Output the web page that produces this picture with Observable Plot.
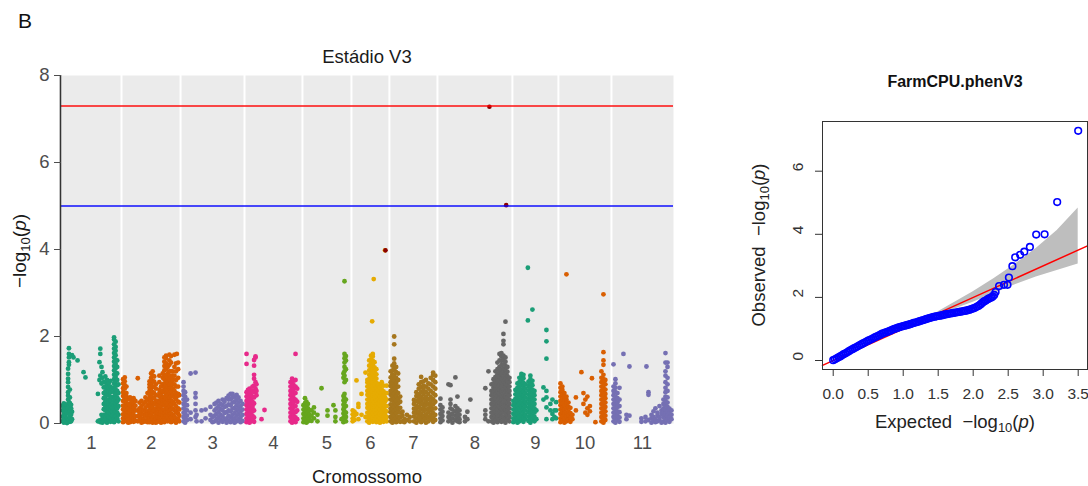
<!DOCTYPE html>
<html><head><meta charset="utf-8">
<script src="https://cdn.jsdelivr.net/npm/d3@7"></script>
<script src="https://cdn.jsdelivr.net/npm/@observablehq/plot@0.6"></script>
<style>
body{margin:0;background:#fff;}
#wrap{position:relative;width:1088px;height:486px;overflow:hidden;font-family:"Liberation Sans",Arial,sans-serif;}
#man{position:absolute;left:0;top:0;}
#qq{position:absolute;left:690px;top:0;}
#ov{position:absolute;left:0;top:0;pointer-events:none;}
#ov text{white-space:pre;}
</style></head><body>
<div id="wrap">
<div id="man"></div>
<div id="qq"></div>
<svg id="ov" width="1088" height="486" font-family="Liberation Sans, Arial, sans-serif">
  <text x="18" y="28" font-size="21" fill="#111">B</text>
  <text x="367" y="63" font-size="18.5" text-anchor="middle" fill="#1a1a1a">Estádio V3</text>
  <text x="367" y="483" font-size="18.5" text-anchor="middle" fill="#1a1a1a">Cromossomo</text>
  <text transform="translate(26,251) rotate(-90)" font-size="19" text-anchor="middle" fill="#1a1a1a">−log<tspan font-size="13" dy="4">10</tspan><tspan dy="-4">(</tspan><tspan font-style="italic">p</tspan>)</text>
  <text x="955" y="87" font-size="16" font-weight="bold" text-anchor="middle" fill="#111">FarmCPU.phenV3</text>
  <text x="955" y="427.5" font-size="18.5" text-anchor="middle" fill="#222">Expected  −log<tspan font-size="13" dy="4">10</tspan><tspan dy="-4">(</tspan><tspan font-style="italic">p</tspan>)</text>
  <text transform="translate(765,245) rotate(-90)" font-size="18.5" text-anchor="middle" fill="#222">Observed  −log<tspan font-size="13" dy="4">10</tspan><tspan dy="-4">(</tspan><tspan font-style="italic">p</tspan>)</text>
</svg>
</div>
<script>
// ---------------- Manhattan data ----------------
const chrLabels = ["1","2","3","4","5","6","7","8","9","10","11"];
const chrLen = [50.1, 49.3, 53.4, 48.4, 40.9, 31.7, 40.1, 62.6, 38.4, 44.3, 51.8]; // Mb
const chrColors = ["#1B9E77","#D95F02","#7570B3","#E7298A","#66A61E","#E6AB02","#A6761D","#666666","#1B9E77","#D95F02","#7570B3"];
const yTicks = [0, 2, 4, 6, 8];
const thresholdRed = [7.3];
const thresholdBlue = [5.0];

// each entry: [position (Mb), [-log10(p) values at that position]]
const chr1 = [
 [0.8,[0.05,0.16,0.3,0.41]],[2.0,[0.1,0.22,0.37,0.02,0.46]],[3.3,[0.33,0.44,0.06,0.19,0.27]],
 [4.6,[0.12,0.3,0.42,0.01,0.24]],[5.5,[0.55,0.64,0.72,0.84,0.95,1.03,1.14,1.26,0.09,0.36]],
 [6.2,[0.08,0.25,0.4,1.35,1.41,1.52,1.6,1.73,0.49]],[7.0,[0.15,0.28,0.47,0.6,0.78,0.04]],
 [8.0,[0.05,0.35,0.2,0.43]],[8.8,[1.57,0.1,0.27]],[10.0,[1.52]],[13.4,[1.45]],[18.4,[1.18]],[20.0,[1.06]],
 [30.4,[0.68,0.05]],[31.7,[1.41,0.07,1.0]],[32.4,[1.72,1.6,0.03,1.1]],[33.4,[0.2,1.3,0.92,0.06]],
 [34.2,[1.18,1.05,0.02,0.12]],[35.3,[0.05,0.2,0.45,0.7,0.95,0.33,0.58,0.83]],
 [36.6,[0.1,0.3,0.5,0.62,0.85,1.08,0.2,0.4,0.74,0.96]],[38.0,[0.02,0.18,0.38,0.55,0.78,0.9,0.28,0.47,0.67,1.0]],
 [39.5,[0.08,0.25,0.45,0.65,0.82,0.15,0.35,0.55,0.74,0.93]],[41.0,[0.04,0.14,0.32,0.52,0.72,0.98,0.23,0.42,0.62,0.85]],
 [42.3,[0.09,0.27,0.44,0.6,0.8,0.18,0.36]],
 [43.9,[0.03,0.12,0.22,0.32,0.42,0.52,0.62,0.72,0.82,0.92,1.02,1.12,1.22,1.32,1.42,1.52,1.62,1.72,1.82,1.93,1.98]],
 [45.2,[0.07,0.17,0.27,0.38,0.47,0.57,0.67,0.78,0.87,0.97,1.07,1.17,1.27,1.37,1.47,1.57,1.67,1.76,1.88]],
 [46.5,[0.12,0.25,0.35,0.5,0.6,0.75,0.88,1.0,1.15,1.3,1.45]],[47.6,[0.05,0.2,0.4,0.55,0.7,0.9]]
];
const chr2 = [
 [1.3,[0.03,0.12,0.21,0.32,0.41,0.52,0.63,0.72,0.81,0.92,1.02]],[2.7,[0.07,0.17,0.27,0.36,0.5,0.66,0.8,0.97,1.06,0.58,0.88]],
 [4.1,[0.05,0.15,0.28,0.4,0.55,0.7,0.85,0.22,0.47,0.62]],[5.6,[0.1,0.25,0.35,0.45,0.02,0.18]],
 [7.1,[0.03,0.18,0.3,0.42,0.55,0.6,0.11,0.24]],[8.6,[0.08,0.22,0.38,0.5,0.15,0.3]],
 [10.1,[0.12,0.28,0.44,0.58,0.04,0.2,0.36]],[11.6,[0.06,0.16,0.3,0.41,0.52]],[13.6,[1.04,0.05,0.3,0.17]],
 [15.0,[0.15,0.35,0.48,0.25,0.07]],[16.7,[0.02,0.22,0.4,0.52,0.12,0.31]],[18.4,[0.1,0.3,0.45,0.2,0.04]],
 [20.0,[0.05,0.18,0.36,0.5,0.27,0.6]],[21.7,[0.12,0.28,0.42,0.55,0.2,0.03,0.7]],
 [23.4,[0.03,0.2,0.38,0.6,0.75,0.9,0.11,0.29,0.48,0.67,0.83,0.97]],[24.7,[0.08,0.18,0.3,0.42,0.55,0.68,0.8,0.92,1.05,1.15]],
 [26.0,[0.02,0.12,0.25,0.36,0.48,0.6,0.72,0.85,0.98,1.1,1.2]],[27.3,[0.06,0.16,0.3,0.45,0.58,0.7,0.84,0.96,1.08]],
 [28.7,[0.1,0.22,0.35,0.5,0.65,0.8,0.9,0.02]],[30.1,[0.04,0.15,0.3,0.42,0.24,0.52]],
 [31.6,[0.08,0.2,0.34,0.48,0.62,0.78,0.95,1.1,0.13,0.41,0.7]],[33.0,[0.02,0.14,0.28,0.4,0.55,0.7,0.85,0.21,0.63]],
 [34.4,[0.06,0.18,0.32,0.46,0.6,0.75,0.9,1.05,1.15,0.25,0.53]],
 [35.8,[0.03,0.12,0.22,0.32,0.42,0.52,0.62,0.72,0.82,0.92,1.02,1.12,1.22,1.32,1.42,1.52]],
 [37.2,[0.08,0.18,0.28,0.38,0.48,0.58,0.68,0.78,0.88,0.98,1.1,1.25,1.38,1.5,1.56]],
 [38.6,[0.05,0.15,0.25,0.35,0.45,0.55,0.65,0.75,0.85,0.95,1.05,1.15,1.3]],
 [40.0,[0.1,0.2,0.3,0.4,0.5,0.6,0.7,0.8,0.9,1.0,1.1,1.2,1.35,1.45,1.58]],
 [41.4,[0.03,0.13,0.23,0.33,0.43,0.53,0.63,0.73,0.83,0.93,1.05,1.2,1.4,1.55]],
 [42.8,[0.08,0.2,0.35,0.5,0.65,0.8,1.0,1.2,1.1,0.9]],[44.2,[0.05,0.15,0.3,0.45,0.6,0.75,0.9,1.1,1.3,1.58]],
 [45.5,[0.02,0.12,0.25,0.4,0.55,0.7,0.85,1.0,1.2,1.38]],[46.2,[1.6,0.3,0.62]],
 [47.3,[0.1,0.22,0.35,0.5,0.68,0.85,1.05,1.25,1.4]],[48.3,[0.05,0.18,0.32,0.48,0.65]]
];
const chr3 = [
 [2.5,[0.05,0.15,0.25,0.35,0.45,0.55,0.65,0.75,0.85,0.95]],[3.8,[0.02,0.12,0.22,0.32,0.42,0.52,0.62,0.72]],
 [5.4,[0.08,0.18,0.3,0.42,0.55]],[8.4,[1.15,0.1,0.25]],[12.5,[1.17,0.7,0.6,0.3,0.45,0.15]],[13.4,[0.05,0.2]],
 [17.5,[0.3,0.05]],[20.9,[0.32,0.12]],[25.0,[0.38,0.2,0.08]],[26.7,[0.15,0.03]],
 [28.4,[0.05,0.18,0.3,0.45]],[30.0,[0.1,0.22,0.35,0.48]],[31.7,[0.02,0.14,0.26,0.4,0.52]],
 [33.4,[0.08,0.2,0.33,0.45]],[35.1,[0.04,0.16,0.3,0.42,0.55]],[36.7,[0.1,0.24,0.38,0.5]],
 [38.4,[0.02,0.12,0.26,0.4,0.58]],[40.1,[0.06,0.18,0.3,0.44,0.55,0.64]],[41.8,[0.03,0.14,0.28,0.42,0.56,0.68]],
 [43.4,[0.08,0.2,0.34,0.48,0.6,0.68]],[45.1,[0.02,0.12,0.24,0.36,0.5,0.62]],[46.8,[0.05,0.18,0.3,0.42,0.55,0.66]],
 [48.4,[0.1,0.22,0.35,0.48,0.6]],[50.1,[0.03,0.15,0.28,0.4,0.52]],[51.8,[0.06,0.2,0.32,0.45]]
];
const chr4 = [
 [1.7,[0.03,0.12,0.22,0.32,0.42,0.52,0.62,0.72,1.6,1.37]],[2.9,[0.07,0.17,0.27,0.37,0.47,0.57,0.67,0.77]],
 [4.2,[0.02,0.1,0.2,0.3,0.4,0.5,0.6,0.7,0.8]],[5.4,[0.05,0.15,0.25,0.35,0.45,0.55,0.65,0.75]],
 [6.7,[0.08,0.18,0.28,0.38,0.5,0.62,0.75,0.85]],[8.0,[0.04,0.14,0.3,0.46,0.6,0.72,0.87,1.03,1.12,1.33,1.46]],
 [9.2,[1.52,1.54,0.95,0.8]],[10.0,[0.75,0.65,0.9]],[14.2,[0.1]],[16.7,[0.31]],
 [38.4,[0.05,0.15,0.25,0.35,0.45,0.55,0.65,0.75,0.85,0.95]],[39.7,[0.02,0.12,0.22,0.32,0.42,0.52,0.62,0.72,0.82,0.92,1.03]],
 [41.0,[0.08,0.18,0.28,0.38,0.48,0.58,0.68,0.78,0.88,0.98]],[42.6,[0.03,0.14,0.26,0.4,0.55,0.7,0.85,1.0,1.6]],
 [44.0,[0.1,0.3,0.5,0.8]]
];
const chr5 = [
 [0.8,[0.03,0.12,0.22,0.32,0.42]],[2.1,[0.07,0.17,0.27,0.37,0.47,0.58]],[3.3,[0.02,0.1,0.2,0.3,0.4,0.5]],
 [4.6,[0.05,0.15,0.25,0.35,0.45]],[5.8,[0.1,0.2,0.3]],[7.5,[0.06,0.18,0.3]],[9.6,[0.37,0.25,0.12]],
 [12.5,[0.2,0.05]],[15.9,[0.81]],[20.9,[0.3,0.18]],[25.9,[0.42]],[27.5,[0.3,0.15,0.05]],[32.6,[0.1]],
 [34.2,[0.03,0.13,0.23,0.33,0.43,0.53,0.63,1.05,1.15]],
 [35.1,[0.08,0.18,0.28,0.38,0.48,0.58,0.68,0.95,1.1,1.2,1.3,1.4,1.5,1.6,3.27]],
 [36.3,[0.05,0.15,0.25,0.4,0.55,1.0,1.25,1.45,1.55]]
];
const chr6 = [
 [1.0,[0.05,0.12,0.21,0.3]],[2.5,[0.08,0.18,0.27]],[4.2,[0.22,0.99]],[5.8,[0.1,0.38,0.45]],[8.4,[0.68,0.2]],
 [11.7,[1.17,0.15]],[13.3,[0.05,0.15,0.25,0.36,0.45,0.55,0.66,0.75,0.85,0.94,1.0]],
 [14.8,[0.02,0.12,0.23,0.32,0.42,0.53,0.62,0.72,0.83,0.92,1.02,1.12,1.22,1.33,1.45]],
 [16.3,[0.07,0.17,0.27,0.38,0.47,0.57,0.68,0.77,0.87,0.97,1.07,1.18,1.27,1.37,1.47,1.56]],[17.3,[2.35]],
 [17.8,[0.04,0.14,0.24,0.34,0.45,0.54,0.64,0.74,0.85,0.94,1.04,1.14,1.24,1.35,1.44,1.54,1.6]],[18.6,[3.32]],
 [19.3,[0.09,0.19,0.29,0.39,0.49,0.6,0.69,0.79,0.89,0.99,1.09,1.19,1.29,1.41]],
 [20.8,[0.03,0.13,0.23,0.33,0.43,0.53,0.63,0.73,0.83,0.93,1.03,1.13,1.25]],
 [22.3,[0.06,0.16,0.26,0.36,0.46,0.56,0.66,0.76,0.86,0.91]],[23.8,[0.02,0.12,0.22,0.32,0.42,0.52,0.62,0.72,0.82]],
 [25.3,[0.08,0.18,0.28,0.38,0.48,0.58,0.68,0.78,0.88,0.95]],[26.8,[0.04,0.14,0.24,0.34,0.44,0.54,0.64,0.74,0.87]],
 [28.0,[0.1,0.2,0.3,0.4,0.5,0.6,0.7,3.98]],[29.4,[0.05,0.15,0.28,0.4,0.55,0.7,0.87]]
];
const chr7 = [
 [1.0,[0.05,0.15,0.26,0.35,0.44,0.55,0.66,0.75,0.86,0.95,1.06,1.2]],
 [2.5,[0.02,0.11,0.22,0.31,0.42,0.53,0.62,0.71,0.83,0.92,1.02,1.13,1.22,1.33]],
 [4.0,[0.08,0.18,0.29,0.38,0.47,0.58,0.69,0.78,0.88,0.99,1.1,1.25,1.38,1.49,1.82,2.0]],
 [5.6,[0.03,0.13,0.24,0.33,0.43,0.52,0.63,0.74,0.83,0.93,1.05,1.18,1.3]],
 [7.3,[0.06,0.16,0.27,0.36,0.46,0.57,0.7,0.85,1.0,1.15]],[9.0,[0.04,0.14,0.25,0.36,0.5,0.62]],
 [10.9,[0.05,0.18,0.27]],[12.5,[0.1,0.03]],[14.6,[0.2,0.08]],[17.0,[0.15,0.05]],
 [20.5,[0.05,0.16,0.25,0.34,0.45,0.54]],[22.5,[0.02,0.12,0.23,0.32,0.41,0.52,0.63,0.72]],
 [24.5,[0.08,0.18,0.27,0.38,0.49,0.58,0.67,0.8,0.9]],[26.5,[0.03,0.13,0.22,0.33,0.44,0.53,0.62,0.73,0.84,0.95,1.07]],
 [28.5,[0.07,0.17,0.28,0.37,0.46,0.57,0.68,0.77,0.87,0.97]],[30.5,[0.02,0.12,0.21,0.32,0.43,0.52,0.61,0.72,0.85,1.0]],
 [32.5,[0.05,0.15,0.26,0.35,0.45,0.56,0.68,0.8,0.92]],[34.5,[0.1,0.2,0.31,0.4,0.5,0.61,0.75,0.9,1.05]],
 [36.5,[0.04,0.14,0.24,0.34,0.44,0.56,0.7,0.85,1.0,1.12,1.17]],[38.3,[0.08,0.2,0.35,0.5,0.65,0.8,0.95,1.1]]
];
const chr8 = [
 [2.5,[0.03,0.12,0.22,0.32,0.42,0.57]],[4.2,[0.07,0.17,0.27,0.37]],[9.2,[0.9,0.05,0.15,0.25]],
 [10.9,[0.88,0.1,0.2,0.35,0.45,0.55]],[12.5,[0.02,0.12,0.22,0.32]],[15.0,[1.06,0.08,0.18,0.28,0.4]],
 [16.7,[0.62,0.05,0.15,0.25,0.35]],[18.4,[0.1,0.2,0.3,0.03]],[23.0,[0.05,0.15]],[25.0,[0.27,0.1]],[27.5,[0.55]],
 [40.0,[0.81,0.3,0.2,0.1]],[42.6,[1.2,0.05]],
 [45.1,[0.05,0.15,0.25,0.35,0.45,0.55,0.65,0.75,0.9]],[46.8,[0.02,0.12,0.22,0.32,0.42,0.52,0.62,0.72,0.82,0.92,1.02]],
 [48.4,[0.07,0.17,0.27,0.37,0.47,0.57,0.67,0.77,0.87,0.97,1.07,1.2]],
 [50.1,[0.03,0.13,0.23,0.33,0.43,0.53,0.63,0.73,0.83,0.93,1.03,1.13,1.25,1.4]],
 [51.8,[0.08,0.18,0.28,0.38,0.48,0.58,0.68,0.78,0.88,0.98,1.08,1.18,1.3,1.45,1.6]],
 [53.4,[0.04,0.14,0.24,0.34,0.44,0.54,0.64,0.74,0.84,0.94,1.04,1.14,1.24,1.34,1.44,1.54,1.62]],
 [55.1,[0.06,0.16,0.26,0.36,0.46,0.56,0.66,0.76,0.86,0.96,1.06,1.16,1.26,1.36,1.46,1.56,1.82,1.9,2.06]],
 [56.8,[0.02,0.12,0.22,0.32,0.42,0.52,0.62,0.72,0.82,0.92,1.02,1.12,1.22,1.32,1.42,1.52,2.34]],
 [58.4,[0.09,0.19,0.29,0.39,0.49,0.59,0.69,0.79,0.89,0.99,1.09,1.19,1.3]],
 [60.1,[0.05,0.15,0.25,0.35,0.45,0.55,0.65,0.75,0.85,0.95,1.05]]
];
const chr9 = [
 [0.8,[0.03,0.12,0.22,0.32,0.42,0.52]],[2.5,[0.07,0.17,0.27,0.37,0.47,0.57,0.67,0.77]],
 [4.2,[0.02,0.12,0.22,0.32,0.42,0.52,0.62,0.72,0.82,0.92]],[5.8,[0.05,0.15,0.25,0.35,0.45,0.55,0.65,0.75,0.85,0.95,1.05]],
 [7.5,[0.08,0.18,0.28,0.38,0.48,0.58,0.68,0.78,0.88,0.98,1.08,1.14]],[9.2,[0.04,0.14,0.24,0.34,0.44,0.54,0.64,0.74,0.84,0.94,1.04,1.12]],
 [10.9,[0.1,0.2,0.3,0.4,0.5,0.6,0.7,0.8,0.9]],[12.9,[3.58,2.37]],[13.4,[0.06,0.16,0.26,0.36,0.46,0.56,0.66,0.76,0.86,0.96]],
 [15.0,[0.02,0.12,0.22,0.32,0.42,0.52,0.62,0.72,0.82,0.92,1.02,1.1]],[16.7,[2.62,0.08,0.18,0.28,0.38,0.48,0.58,0.68,0.78,0.88,0.98]],
 [18.4,[0.05,0.15,0.25,0.35,0.45,0.55,0.65,0.75]],[20.0,[0.1,0.3]],[25.9,[0.83,0.55]],
 [28.4,[2.15,1.89,1.49,0.75,0.6,0.37,0.1]],[31.7,[0.45,0.3]],[33.4,[0.22,0.1,0.55]],[35.1,[0.3,0.15]],[36.5,[0.49,0.3,0.12]]
];
const chr10 = [
 [1.7,[0.03,0.12,0.22,0.32,0.42,0.52,0.62,0.72,0.82,0.92]],[3.3,[0.07,0.17,0.27,0.37,0.47,0.57,0.67,0.77,0.85]],
 [5.0,[0.02,0.12,0.22,0.32,0.42,0.52,0.62,0.7]],[6.7,[0.05,0.15,0.25,0.35,0.45,0.55,0.62,3.43]],
 [8.4,[0.08,0.18,0.28,0.38,0.48]],[10.0,[0.04,0.14,0.24,0.36]],[11.7,[0.1,0.2]],[14.6,[0.6,0.3]],[19.2,[1.18]],
 [20.9,[0.7,0.45]],[22.5,[0.55,0.25]],[24.2,[0.62,0.35,0.2]],[26.3,[0.4,0.28]],[28.0,[1.04]],[30.9,[0.03]],
 [35.9,[0.05,0.15,0.25,0.35,0.45,0.55,0.65,0.75,0.85,0.95,1.05,1.2]],
 [37.6,[0.02,0.12,0.22,0.32,0.42,0.52,0.62,0.72,0.82,0.92,1.02,1.12,1.35,1.45,1.64,2.97]],
 [39.2,[0.08,0.18,0.28,0.38,0.48,0.58,0.68,0.78,0.9,1.0]]
];
const chr11 = [
 [1.7,[0.05,0.15,0.25,0.35,0.45,0.55,0.65,0.75,0.85,1.36]],[3.3,[0.02,0.12,0.22,0.32,0.42,0.52,0.62,0.72,0.82,0.92,1.02]],
 [5.0,[0.08,0.18,0.28,0.38,0.48,0.58,0.7]],[6.7,[0.04,0.14,0.26,0.4,0.55,0.82]],[10.0,[1.6]],[12.5,[0.2,0.1]],
 [15.0,[1.31,0.18]],[25.0,[0.12,0.04]],[28.4,[0.05,0.15]],[29.2,[1.31]],[30.9,[0.72,0.66,0.08]],
 [33.4,[0.02,0.12,0.2]],[35.1,[0.06,0.15,0.28]],[36.7,[0.1,0.03,0.35]],[38.4,[0.05,0.18,0.25]],
 [40.1,[0.08,0.14,0.4]],[41.8,[0.02,0.22,0.3]],[43.4,[0.05,0.15,0.25,0.35,0.45,0.55]],
 [45.1,[0.02,0.12,0.22,0.32,0.42,0.52,0.62,0.72,0.82,0.95,1.1,1.2,1.4,1.62]],
 [46.8,[0.08,0.18,0.28,0.38,0.48,0.6,0.75,0.9,1.05,1.3,1.4]],[48.4,[0.04,0.14,0.24,0.34]],[50.1,[0.1,0.2,0.3]]
];
// highlighted SNPs: [chromosome index (1-based), position Mb, -log10(p)]
const highlights = [[6, 28.4, 3.98], [8, 43.4, 7.28], [8, 57.4, 5.02]];

// ---------------- QQ data ----------------
const qqExpected = [0,0.025,0.05,0.075,0.1,0.125,0.15,0.175,0.2,0.225,0.25,0.275,0.3,0.325,0.35,0.375,0.4,0.425,0.45,0.475,
 0.5,0.525,0.55,0.575,0.6,0.625,0.65,0.675,0.7,0.725,0.75,0.775,0.8,0.825,0.85,0.875,0.9,0.925,0.95,0.975,
 1.0,1.025,1.05,1.075,1.1,1.125,1.15,1.175,1.2,1.225,1.25,1.275,1.3,1.325,1.35,1.375,1.4,1.425,1.45,1.475,
 1.5,1.525,1.55,1.575,1.6,1.625,1.65,1.675,1.7,1.725,1.75,1.775,1.8,1.825,1.85,1.875,1.9,1.925,1.95,1.975,
 2.0,2.025,2.05,2.075,2.1,2.12,2.14,2.16,2.18,2.2,2.22,2.24,2.26,2.28,2.3,2.32,2.37,2.44,2.49,2.51,2.56,2.6,2.67,2.73,2.81,2.9,3.02,3.2,3.5];
const qqObserved = [0.01,0.04,0.07,0.1,0.13,0.165,0.2,0.23,0.26,0.295,0.33,0.36,0.39,0.42,0.45,0.48,0.51,0.54,0.57,0.6,
 0.63,0.655,0.68,0.71,0.74,0.765,0.79,0.82,0.85,0.87,0.89,0.91,0.93,0.955,0.98,1.0,1.02,1.04,1.06,1.075,
 1.09,1.105,1.12,1.135,1.15,1.17,1.19,1.205,1.22,1.24,1.26,1.275,1.29,1.31,1.33,1.345,1.36,1.375,1.39,1.4,
 1.41,1.42,1.43,1.445,1.46,1.47,1.48,1.49,1.5,1.51,1.52,1.53,1.54,1.55,1.56,1.57,1.58,1.595,1.61,1.63,
 1.65,1.67,1.7,1.73,1.77,1.81,1.85,1.88,1.9,1.93,1.96,1.98,2.0,2.03,2.08,2.17,2.36,2.4,2.4,2.63,2.99,3.27,3.35,3.45,3.6,3.99,4.0,5.02,7.28];
const bandExpected = [1.45,1.7,2.0,2.3,2.6,2.9,3.2,3.5];
const bandLower = [1.42,1.6,1.85,2.12,2.4,2.65,2.85,3.06];
const bandUpper = [1.48,1.8,2.18,2.6,3.05,3.55,4.12,4.83];
const qqXTicks = [0,0.5,1,1.5,2,2.5,3,3.5];
const qqYTicks = [0,2,4,6];

// ---------------- build ----------------
const ends = Array.from(d3.cumsum(chrLen));
const starts = [0, ...ends.slice(0, -1)];
const total = d3.sum(chrLen);
const centers = chrLen.map((l, i) => starts[i] + l / 2);
const bounds = starts.slice(1);
const chrData = [chr1, chr2, chr3, chr4, chr5, chr6, chr7, chr8, chr9, chr10, chr11];
const snps = chrData.flatMap((cols, i) => cols.flatMap(([pos, vals]) => vals.map(v => ({chr: chrLabels[i], x: starts[i] + pos, y: v}))));
const hl = highlights.map(([c, pos, v]) => ({x: starts[c - 1] + pos, y: v}));

const man = Plot.plot({
  width: 690, height: 486,
  marginLeft: 61, marginRight: 17, marginTop: 75, marginBottom: 63,
  x: {domain: [0, total], label: null},
  y: {domain: [0, 8], label: null},
  color: {type: "ordinal", domain: chrLabels, range: chrColors},
  style: {fontFamily: "Liberation Sans, Arial, sans-serif", background: "transparent", color: "#4D4D4D"},
  marks: [
    Plot.frame({fill: "#EBEBEB", stroke: "none"}),
    Plot.ruleX(bounds, {stroke: "white", strokeWidth: 2}),
    Plot.dot(snps, {x: "x", y: "y", fill: "chr", r: 2.4}),
    Plot.dot(hl, {x: "x", y: "y", fill: "#8B0000", r: 2.3}),
    Plot.ruleY(thresholdRed, {stroke: "red", strokeOpacity: 0.7, strokeWidth: 2}),
    Plot.ruleY(thresholdBlue, {stroke: "blue", strokeOpacity: 0.7, strokeWidth: 2}),
    Plot.ruleX([0], {stroke: "#333", strokeWidth: 1.6, dx: -1}),
    Plot.axisY(yTicks, {tickSize: 7, tickPadding: 5, fontSize: 18.5, color: "#4D4D4D", label: null}),
    Plot.axisX(centers, {tickSize: 0, tickPadding: 12, fontSize: 18.5, color: "#4D4D4D", label: null,
      tickFormat: d => chrLabels[centers.indexOf(d)]})
  ]
});
document.getElementById("man").appendChild(man);

const qqPts = qqExpected.map((e, i) => ({e, o: qqObserved[i]}));
const band = bandExpected.map((e, i) => ({e, lo: bandLower[i], hi: bandUpper[i]}));
const qxDomain = [-0.153, 3.633];
const qq = Plot.plot({
  width: 398, height: 486,
  marginLeft: 132, marginRight: 1, marginTop: 121, marginBottom: 117,
  x: {domain: qxDomain, label: null},
  y: {domain: [-0.285, 7.575], label: null},
  style: {fontFamily: "Liberation Sans, Arial, sans-serif", background: "transparent", color: "#222"},
  marks: [
    Plot.areaY(band, {x: "e", y1: "lo", y2: "hi", fill: "#BEBEBE"}),
    Plot.line(qxDomain, {x: d => d, y: d => d, stroke: "red", strokeWidth: 1.5}),
    Plot.dot(qqPts, {x: "e", y: "o", r: 3.3, stroke: "blue", strokeWidth: 1.6, fill: "none"}),
    Plot.frame({stroke: "#333"}),
    Plot.axisX(qqXTicks, {tickSize: 7, tickPadding: 11, fontSize: 15.5, color: "#333", label: null, tickFormat: d3.format(".1f")}),
    Plot.axisY(qqYTicks, {tickSize: 7, color: "#333", label: null, tickFormat: () => ""}),
    Plot.text(qqYTicks, {y: d => d, frameAnchor: "left", dx: -24, rotate: -90, text: d => String(d), fontSize: 15.5, fill: "#333"})
  ]
});
document.getElementById("qq").appendChild(qq);
</script>
</body></html>
